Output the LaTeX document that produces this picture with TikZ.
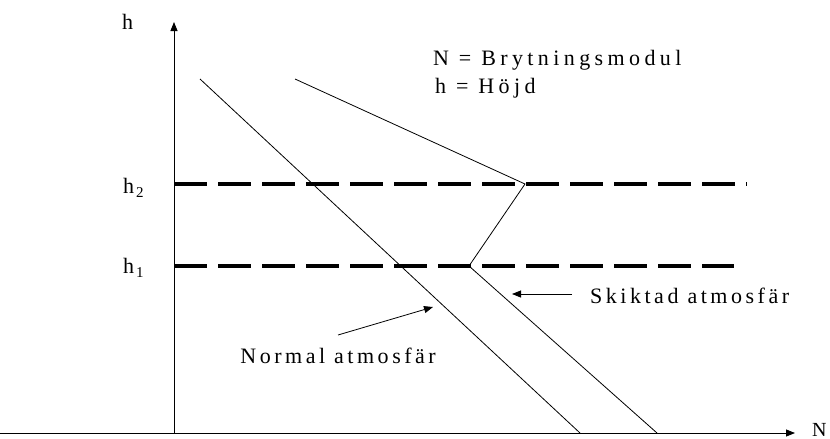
\documentclass[tikz,border=0pt]{standalone}
\usepackage{fontspec}
\setmainfont{Liberation Serif}
\newfontfamily\spacedA[LetterSpace=20]{Liberation Serif}
\newfontfamily\spacedB[LetterSpace=16]{Liberation Serif}
\usetikzlibrary{arrows.meta}
\begin{document}
\begin{tikzpicture}[x=1pt,y=-1pt,
  thinline/.style={line width=0.8pt},
  dashline/.style={line width=4pt, dash pattern=on 33pt off 11pt},
  tip/.style={-{Triangle[length=9pt,width=7pt]}},
  txt/.style={inner sep=0pt, anchor=base west, font=\spacedA\fontsize{22}{26}\selectfont},
  txtb/.style={inner sep=0pt, anchor=base west, font=\spacedB\fontsize{22}{26}\selectfont}]
\useasboundingbox (0,0) rectangle (830,439);
% axes
\coordinate (O) at (174,433);
\coordinate (ytop) at (174,22);
\coordinate (xl) at (0,433);
\coordinate (xr) at (795,433);
\draw[thinline,tip] (O) -- (ytop);
\draw[thinline,tip] (xl) -- (xr);
% dashed levels
\coordinate (h2s) at (174,184);
\coordinate (h2e) at (747,184);
\coordinate (h1s) at (174,266);
\coordinate (h1e) at (734,266);
\draw[dashline] (h2s) -- (h2e);
\draw[dashline] (h1s) -- (h1e);
% profiles
\coordinate (na) at (200,79);
\coordinate (nb) at (580,433);
\coordinate (ua) at (295,79);
\coordinate (V2) at (525,184);
\coordinate (V1) at (469,266);
\coordinate (sb) at (657,433);
\draw[thinline] (na) -- (nb);
\draw[thinline] (ua) -- (V2) -- (V1) -- (sb);
% pointer arrows
\coordinate (naS) at (338,335);
\coordinate (naE) at (433,307);
\coordinate (saS) at (572,294);
\coordinate (saE) at (512,294);
\draw[thinline,tip] (naS) -- (naE);
\draw[thinline,tip] (saS) -- (saE);
% labels
\node[txt] (hy) at (122,29) {h};
\node[txt] (lh2) at (123,193) {h\hspace{2pt}\raisebox{-4pt}{\fontsize{15}{15}\selectfont 2}};
\node[txt] (lh1) at (123,273) {h\hspace{2pt}\raisebox{-4pt}{\fontsize{15}{15}\selectfont 1}};
\node[txt] (leg1) at (433,65) {N = Brytningsmodul};
\node[txt] (leg2) at (435,93) {h = Höjd};
\node[txtb] (skl) at (590,303) {Skiktad atmosfär};
\node[txtb, anchor=base east] (nol) at (436,363) {Normal atmosfär};
\node[txt, font=\rmfamily\fontsize{20}{24}\selectfont] (xN) at (812,436) {N};
\end{tikzpicture}
\end{document}
